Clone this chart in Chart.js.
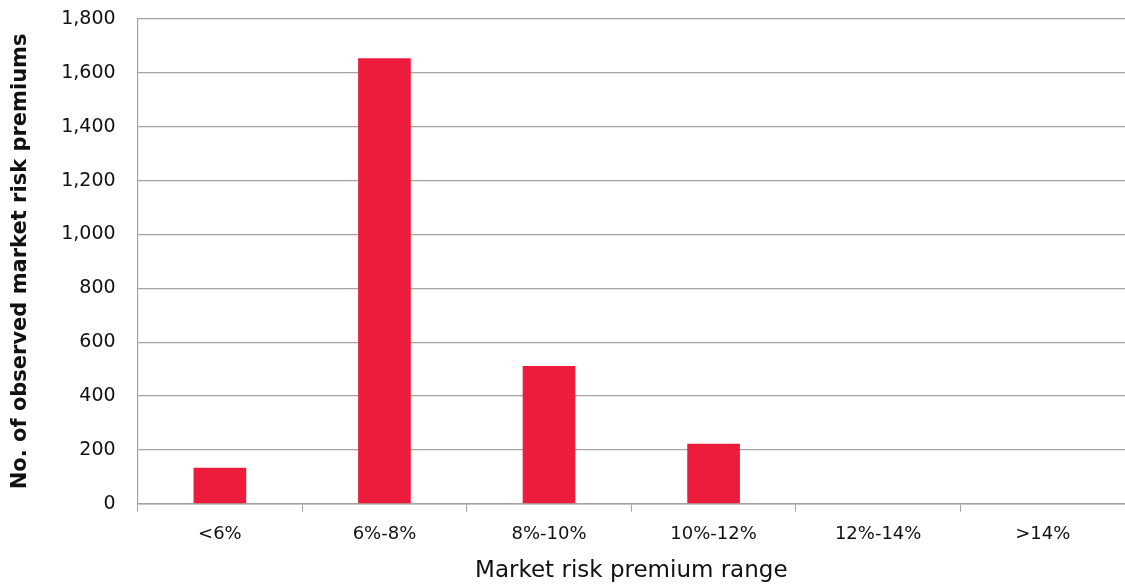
<!DOCTYPE html>
<html>
<head>
<meta charset="utf-8">
<script src="https://cdn.jsdelivr.net/npm/chart.js@4"></script>
<style>
  html, body { margin: 0; padding: 0; background: #fff; }
  #wrap { width: 1125px; height: 585px; }
</style>
</head>
<body>
<div id="wrap"><canvas id="mrpChart"></canvas></div>
<script>
// data
const categories = ["<6%", "6%-8%", "8%-10%", "10%-12%", "12%-14%", ">14%"];
const counts = [134, 1654, 512, 223, 0, 0];
const yTicks = [0, 200, 400, 600, 800, 1000, 1200, 1400, 1600, 1800];

const gridColor = "#aaa29c";
const fontFam = "'DejaVu Sans', Verdana, sans-serif";

const ctx = document.getElementById("mrpChart").getContext("2d");
const mrpChart = new Chart(ctx, {
  type: "bar",
  data: {
    labels: categories,
    datasets: [
      {
        label: "Count",
        data: counts,
        backgroundColor: "#ed1c3c",
        borderWidth: 0,
        barPercentage: 0.64,
        categoryPercentage: 0.5,
      },
    ],
  },
  options: {
    responsive: true,
    maintainAspectRatio: false,
    animation: false,
    layout: { padding: { top: 0, right: 0, left: 8, bottom: 0 } },
    plugins: {
      legend: { display: false },
      tooltip: { enabled: false },
    },
    scales: {
      x: {
        grid: {
          color: gridColor,
          drawOnChartArea: false,
          tickLength: 8,
          lineWidth: 1,
        },
        border: { color: gridColor, width: 1.5 },
        ticks: {
          color: "#111",
          font: { family: fontFam, size: 18 },
          padding: 12,
        },
        title: {
          display: true,
          text: "Market risk premium range",
          color: "#111",
          font: { family: fontFam, size: 23 },
          padding: { top: 0, bottom: 0 },
        },
      },
      y: {
        min: 0,
        max: 1800,
        afterBuildTicks: (axis) => {
          axis.ticks = yTicks.map(v => ({ value: v }));
        },
        afterFit: (axis) => {
          axis.paddingTop = 19;
        },
        grid: {
          color: gridColor,
          drawTicks: false,
          lineWidth: 1.2,
        },
        border: { color: gridColor, width: 1.2 },
        ticks: {
          color: "#111",
          font: { family: fontFam, size: 19 },
          padding: 22,
          callback: (v) => v.toLocaleString("en-US"),
        },
        title: {
          display: true,
          text: "No. of observed market risk premiums",
          color: "#111",
          font: { family: fontFam, size: 21, weight: "bold" },
          padding: { top: 0, bottom: 6 },
        },
      },
    },
  },
});
</script>
</body>
</html>
